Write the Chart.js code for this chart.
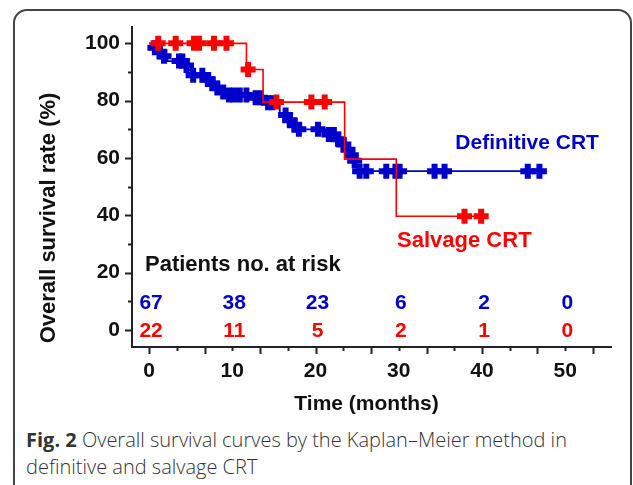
<!DOCTYPE html>
<html>
<head>
<meta charset="utf-8">
<script src="https://cdn.jsdelivr.net/npm/chart.js@4.4.1/dist/chart.umd.min.js"></script>
<style>
  html, body { margin: 0; padding: 0; background: #fff; }
  #wrap { position: relative; width: 633px; height: 485px; overflow: hidden; }
  #frame { position: absolute; left: 13px; top: 9px; width: 615px; height: 490px; border: 2px solid #444; border-radius: 14px; }
  #chartBox { position: absolute; left: 0; top: 0; width: 633px; height: 420px; }
  #caption { position: absolute; left: 26px; top: 426px; font-family: "Open Sans", sans-serif; font-weight: 300; font-size: 20px; line-height: 27px; color: #333; white-space: nowrap; }
  #caption b { font-weight: 700; }
</style>
</head>
<body>
<div id="wrap">
  <div id="frame"></div>
  <div id="chartBox"><canvas id="kmChart"></canvas></div>
  <div id="caption"><b>Fig. 2</b> Overall survival curves by the Kaplan–Meier method in<br>definitive and salvage CRT</div>
</div>
<script>
const xLabels = [0, 10, 20, 30, 40, 50];
const yLabels = [0, 20, 40, 60, 80, 100];

// Kaplan-Meier steps (time in months, survival %)
const definitiveTimes = [0, 0.3, 1.0, 1.5, 2.2, 4.2, 4.7, 5.0, 6.9, 7.4, 8.0, 8.7, 9.3, 12.4, 13.9, 15.7, 16.7, 17.3, 17.8, 21.2, 22.5, 23.1, 23.7, 24.1, 24.5, 24.8, 25.0, 47.5];
const definitiveRates = [100, 98.5, 97.0, 95.5, 93.8, 92.3, 90.7, 88.9, 87.4, 85.9, 84.4, 83.0, 82.0, 81.0, 79.3, 75.0, 73.2, 71.4, 70.0, 68.2, 66.5, 64.7, 62.9, 61.0, 59.0, 57.2, 55.4, 55.4];
const definitiveCensorTimes = [0.7, 1.3, 1.8, 3.6, 4.0, 4.5, 5.3, 6.4, 7.1, 7.6, 8.2, 8.9, 9.6, 10.2, 10.9, 11.7, 12.8, 13.4, 14.3, 14.8, 16.4, 16.9, 17.5, 18.0, 20.3, 21.6, 22.2, 22.7, 23.4, 23.9, 24.3, 24.7, 25.3, 26.1, 28.5, 29.6, 30.1, 34.3, 35.5, 45.5, 46.9];
const definitiveCensorRates = [98.5, 97.0, 95.5, 93.8, 93.8, 92.3, 88.9, 88.9, 87.4, 85.9, 84.4, 83.0, 82.0, 82.0, 82.0, 82.0, 81.0, 81.0, 79.3, 79.3, 75.0, 73.2, 71.4, 70.0, 70.0, 68.2, 68.2, 66.5, 64.7, 62.9, 61.0, 59.0, 55.4, 55.4, 55.4, 55.4, 55.4, 55.4, 55.4, 55.4, 55.4];

const salvageTimes = [0, 11.7, 13.7, 23.5, 29.7, 40.0];
const salvageRates = [100, 90.9, 79.5, 59.6, 39.7, 39.7];
const salvageCensorTimes = [1.1, 3.2, 5.4, 6.0, 7.8, 9.3, 11.9, 15.3, 19.5, 21.1, 37.9, 39.9];
const salvageCensorRates = [100, 100, 100, 100, 100, 100, 90.9, 79.5, 79.5, 79.5, 39.7, 39.7];

const riskTimes = [0, 10, 20, 30, 40, 50];
const riskDefinitive = [67, 38, 23, 6, 2, 0];
const riskSalvage = [22, 11, 5, 2, 1, 0];

const BLUE = "#0000cc";
const RED = "#ff0000";
const INK = "#111";
const BOLD = (size) => `bold ${size}px "Liberation Sans", Arial, sans-serif`;

function toPoints(xs, ys) {
  return xs.map((x, i) => ({ x, y: ys[i] }));
}

const extras = {
  id: "kmExtras",
  afterDraw(chart) {
    const { ctx, chartArea } = chart;
    const xs = chart.scales.x;
    const ys = chart.scales.y;
    ctx.save();
    ctx.strokeStyle = "#222";
    ctx.lineWidth = 2;

    // x tick marks: every 10/3 month, long/short alternating
    for (let i = 0; i <= 16; i++) {
      const px = Math.round(xs.getPixelForValue(i * 10 / 3)) + 0.5;
      const len = i % 2 === 0 ? 7 : 4;
      ctx.beginPath();
      ctx.moveTo(px, chartArea.bottom);
      ctx.lineTo(px, chartArea.bottom + len);
      ctx.stroke();
    }
    // y tick marks: 0..100, long at 20s
    for (let v = 0; v <= 100; v += 10) {
      const py = Math.round(ys.getPixelForValue(v)) + 0.5;
      const len = v % 20 === 0 ? 7 : 4;
      ctx.beginPath();
      ctx.moveTo(chartArea.left, py);
      ctx.lineTo(chartArea.left - len, py);
      ctx.stroke();
    }

    // axis titles
    ctx.fillStyle = INK;
    ctx.font = BOLD(21);
    ctx.textAlign = "center";
    ctx.textBaseline = "middle";
    ctx.fillText("Time (months)", (chartArea.left + chartArea.right) / 2 - 5, 404);
    ctx.save();
    ctx.translate(49, 218);
    ctx.rotate(-Math.PI / 2);
    ctx.font = BOLD(22);
    ctx.fillText("Overall survival rate (%)", 0, 0);
    ctx.restore();

    // numbers at risk
    const y0 = ys.getPixelForValue(0);
    ctx.font = BOLD(22);
    ctx.textAlign = "left";
    ctx.fillText("Patients no. at risk", 145, y0 - 65);
    ctx.font = BOLD(21);
    ctx.textAlign = "center";
    riskTimes.forEach((t, i) => {
      const px = xs.getPixelForValue(t) + 2;
      ctx.fillStyle = BLUE;
      ctx.fillText(String(riskDefinitive[i]), px, y0 - 27);
      ctx.fillStyle = RED;
      ctx.fillText(String(riskSalvage[i]), px, y0 + 1);
    });

    // curve labels
    ctx.textAlign = "left";
    ctx.fillStyle = BLUE;
    ctx.font = BOLD(21);
    ctx.fillText("Definitive CRT", xs.getPixelForValue(36.8), ys.getPixelForValue(65.2));
    ctx.fillStyle = RED;
    ctx.font = BOLD(22);
    ctx.fillText("Salvage CRT", xs.getPixelForValue(29.8), ys.getPixelForValue(31.0));
    ctx.restore();
  }
};

const tickFont = { family: '"Liberation Sans", Arial, sans-serif', weight: "bold", size: 21 };

new Chart(document.getElementById("kmChart"), {
  data: {
    datasets: [
      {
        type: "scatter",
        data: toPoints(salvageCensorTimes, salvageCensorRates),
        pointStyle: "cross",
        pointRadius: 7.5,
        borderWidth: 6,
        borderColor: RED,
        order: 0
      },
      {
        type: "line",
        data: toPoints(salvageTimes, salvageRates),
        stepped: true,
        borderColor: RED,
        borderWidth: 1.6,
        pointRadius: 0,
        fill: false,
        order: 1
      },
      {
        type: "scatter",
        data: toPoints(definitiveCensorTimes, definitiveCensorRates),
        pointStyle: "cross",
        pointRadius: 7.5,
        borderWidth: 6,
        borderColor: BLUE,
        order: 2
      },
      {
        type: "line",
        data: toPoints(definitiveTimes, definitiveRates),
        stepped: true,
        borderColor: BLUE,
        borderWidth: 1.8,
        pointRadius: 0,
        fill: false,
        order: 3
      }
    ]
  },
  options: {
    responsive: true,
    maintainAspectRatio: false,
    animation: false,
    layout: { padding: { top: 27, right: 22, left: 0, bottom: 0 } },
    plugins: { legend: { display: false }, tooltip: { enabled: false } },
    scales: {
      x: {
        type: "linear",
        min: -2.05,
        max: 55.5,
        afterFit: s => { s.height = 73; },
        afterBuildTicks: s => { s.ticks = xLabels.map(v => ({ value: v })); },
        grid: { display: false, drawTicks: false },
        border: { display: true, color: "#222", width: 2 },
        ticks: { padding: 12, color: INK, font: tickFont, maxRotation: 0, autoSkip: false }
      },
      y: {
        type: "linear",
        min: -5.93,
        max: 105.7,
        afterFit: s => { s.width = 132; },
        afterBuildTicks: s => { s.ticks = yLabels.map(v => ({ value: v })); },
        grid: { display: false, drawTicks: false },
        border: { display: true, color: "#222", width: 2 },
        ticks: { padding: 12, color: INK, font: tickFont, autoSkip: false }
      }
    }
  },
  plugins: [extras]
});
</script>
</body>
</html>
